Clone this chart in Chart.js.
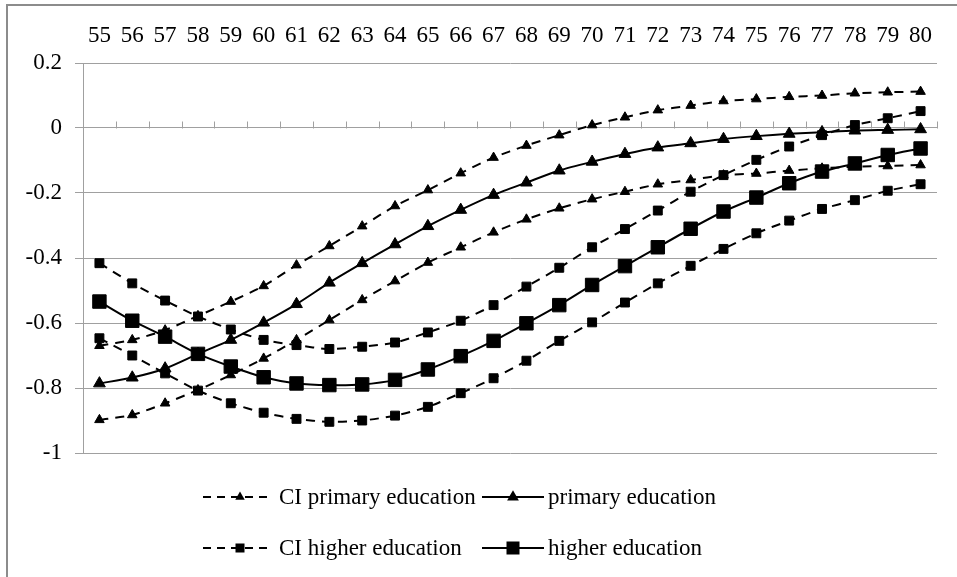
<!DOCTYPE html>
<html>
<head>
<meta charset="utf-8">
<script src="https://cdn.jsdelivr.net/npm/chart.js@4.4.1/dist/chart.umd.min.js"></script>
<style>
  html, body { margin: 0; padding: 0; background: #fff; }
  #wrap { position: relative; width: 957px; height: 577px; overflow: hidden; background: #fff; }
  #frame { position: absolute; left: 6px; top: 4px; width: 1000px; height: 1000px;
           border-left: 2px solid #8c8c8c; border-top: 2px solid #8c8c8c; }
  #c { position: absolute; left: 0; top: 0; }
  #legend { position: absolute; left: 0; top: 0; width: 957px; height: 577px;
            font-family: "Liberation Serif", "Times New Roman", serif; font-size: 23px; color: #000; }
  .sample { position: absolute; display: block; }
  .ltext { position: absolute; white-space: nowrap; line-height: 30px; height: 30px; }
</style>
</head>
<body>
<div id="wrap">
  <div id="frame"></div>
  <canvas id="c" width="957" height="577"></canvas>
  <div id="legend"></div>
</div>
<script>
// ---- data ----
const ages = ['55','56','57','58','59','60','61','62','63','64','65','66','67','68','69','70','71','72','73','74','75','76','77','78','79','80'];

const ciPrimaryUpper = [-0.670,-0.652,-0.622,-0.578,-0.534,-0.486,-0.422,-0.363,-0.302,-0.240,-0.191,-0.139,-0.091,-0.054,-0.022,0.009,0.033,0.055,0.069,0.083,0.089,0.096,0.100,0.107,0.110,0.112];
const primary        = [-0.786,-0.768,-0.740,-0.695,-0.652,-0.599,-0.542,-0.476,-0.416,-0.358,-0.302,-0.252,-0.206,-0.168,-0.131,-0.104,-0.080,-0.060,-0.047,-0.034,-0.025,-0.018,-0.013,-0.008,-0.006,-0.004];
const ciPrimaryLower = [-0.898,-0.883,-0.847,-0.806,-0.760,-0.709,-0.652,-0.591,-0.529,-0.471,-0.414,-0.367,-0.321,-0.281,-0.247,-0.219,-0.196,-0.173,-0.160,-0.145,-0.140,-0.131,-0.124,-0.119,-0.117,-0.114];
const higher         = [-0.534,-0.593,-0.642,-0.695,-0.734,-0.767,-0.786,-0.791,-0.789,-0.775,-0.743,-0.702,-0.655,-0.601,-0.545,-0.483,-0.425,-0.367,-0.310,-0.257,-0.214,-0.170,-0.134,-0.109,-0.083,-0.063];
const ciHigherUpper  = [-0.416,-0.478,-0.531,-0.580,-0.620,-0.652,-0.668,-0.680,-0.673,-0.660,-0.629,-0.593,-0.545,-0.488,-0.430,-0.367,-0.311,-0.254,-0.196,-0.145,-0.098,-0.057,-0.022,0.009,0.030,0.052];
const ciHigherLower  = [-0.647,-0.700,-0.755,-0.808,-0.847,-0.876,-0.895,-0.904,-0.900,-0.885,-0.858,-0.816,-0.770,-0.716,-0.655,-0.598,-0.537,-0.478,-0.424,-0.372,-0.324,-0.285,-0.249,-0.222,-0.193,-0.173];

const yTicks = [0.2, 0, -0.2, -0.4, -0.6, -0.8, -1];
const seriesNames = ['CI primary education', 'primary education', 'CI higher education', 'higher education'];

// ---- styles ----
const FONT = '"Liberation Serif", "Times New Roman", serif';
const FONT_SIZE = 23;
const GRID = '#a0a0a0';
const DASH = [9, 7];

function ds(label, data, style, dashed, radius, legend) {
  return {
    label, data,
    borderColor: '#000', backgroundColor: '#000',
    borderWidth: 2, borderDash: dashed ? DASH : [],
    pointStyle: style, pointRadius: radius, pointBorderWidth: 1,
    pointBackgroundColor: '#000', pointBorderColor: '#000',
    tension: 0.25, fill: false,
    showInLegend: legend
  };
}

const datasets = [
  ds(seriesNames[0], ciPrimaryUpper, 'triangle', true, 5.5, true),
  ds(seriesNames[1], primary, 'triangle', false, 6.8, true),
  ds(seriesNames[0], ciPrimaryLower, 'triangle', true, 5.5, false),
  ds(seriesNames[2], ciHigherUpper, 'rect', true, 6.3, true),
  ds(seriesNames[3], higher, 'rect', false, 9.5, true),
  ds(seriesNames[2], ciHigherLower, 'rect', true, 6.3, false)
];

// tick marks pointing up from the zero line at every category boundary
const zeroTicks = {
  id: 'zeroTicks',
  beforeDatasetsDraw(chart) {
    const xs = chart.scales.x, ys = chart.scales.y;
    const y0 = Math.round(ys.getPixelForValue(0)) + 0.5;
    const ctx = chart.ctx;
    ctx.save();
    ctx.strokeStyle = GRID;
    ctx.lineWidth = 1;
    ctx.beginPath();
    for (let i = 0; i <= ages.length; i++) {
      const x = Math.round(xs.getPixelForValue(i - 0.5)) + 0.5;
      ctx.moveTo(x, y0);
      ctx.lineTo(x, y0 - 7);
    }
    ctx.stroke();
    ctx.restore();
  }
};

const chart = new Chart(document.getElementById('c'), {
  type: 'line',
  data: { labels: ages, datasets },
  plugins: [zeroTicks],
  options: {
    responsive: false,
    animation: false,
    layout: { padding: { left: 0, top: 0, right: 20, bottom: 124 } },
    plugins: { legend: { display: false }, tooltip: { enabled: false } },
    scales: {
      x: {
        type: 'category',
        position: 'top',
        offset: true,
        grid: { display: false, drawTicks: false },
        border: { display: false },
        ticks: { color: '#000', font: { family: FONT, size: FONT_SIZE }, padding: 13, maxRotation: 0, autoSkip: false },
        afterFit(s) { s.height = 63; }
      },
      y: {
        min: -1, max: 0.2,
        afterBuildTicks(s) { s.ticks = yTicks.map(v => ({ value: v })); },
        grid: { color: GRID, lineWidth: 1, tickLength: 8, drawTicks: true },
        border: { color: GRID, width: 1 },
        ticks: {
          color: '#000', font: { family: FONT, size: FONT_SIZE }, padding: 13,
          callback: v => String(Math.round(v * 10) / 10)
        },
        afterFit(s) { s.width = 83; }
      }
    }
  }
});

// ---- HTML legend with line + marker samples ----
function sampleSvg(d, w) {
  const h = 24, cy = 12;
  const dashed = d.borderDash.length > 0;
  const cx = dashed ? 37 : w / 2;
  let marker;
  if (d.pointStyle === 'triangle') {
    const r = dashed ? 5.5 : 6.8;
    const hx = r * Math.sin(Math.PI / 3), hy = r * 0.5;
    marker = `<polygon points="${cx},${cy - r} ${cx + hx},${cy + hy} ${cx - hx},${cy + hy}" fill="#000"/>`;
  } else {
    const s = dashed ? 9 : 13;
    marker = `<rect x="${cx - s / 2}" y="${cy - s / 2}" width="${s}" height="${s}" fill="#000"/>`;
  }
  const line = dashed
    ? `<line x1="0" y1="${cy}" x2="${w}" y2="${cy}" stroke="#000" stroke-width="2" stroke-dasharray="8 6"/>`
    : `<line x1="0" y1="${cy}" x2="${w}" y2="${cy}" stroke="#000" stroke-width="2"/>`;
  return `<svg class="sample" width="${w}" height="${h}">${line}${marker}</svg>`;
}
const legendEl = document.getElementById('legend');
const legendItems = datasets.filter(d => d.showInLegend);
const sampleX = [203, 482];
const sampleW = [66, 62];
const textX = [279, 548];
const rowY = [497, 548];
legendItems.forEach((d, i) => {
  const col = i % 2, row = Math.floor(i / 2);
  const wrap = document.createElement('div');
  wrap.innerHTML = sampleSvg(d, sampleW[col]);
  const svg = wrap.firstChild;
  svg.style.left = sampleX[col] + 'px';
  svg.style.top = (rowY[row] - 12) + 'px';
  legendEl.appendChild(svg);
  const t = document.createElement('span');
  t.className = 'ltext';
  t.textContent = d.label;
  t.style.left = textX[col] + 'px';
  t.style.top = (rowY[row] - 15) + 'px';
  legendEl.appendChild(t);
});
</script>
</body>
</html>
